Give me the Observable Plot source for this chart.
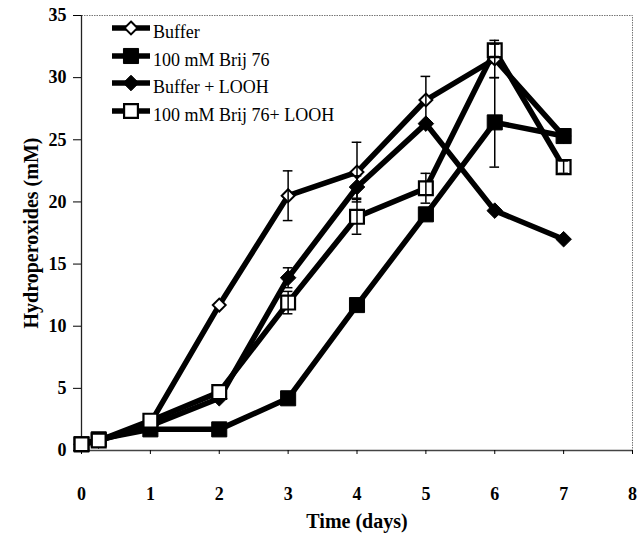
<!DOCTYPE html>
<html><head><meta charset="utf-8">
<script src="https://cdn.jsdelivr.net/npm/d3@7"></script>
<script src="https://cdn.jsdelivr.net/npm/@observablehq/plot@0.6"></script>
<style>
body{margin:0;background:#fff;}
#wrap{position:relative;width:641px;height:533px;font-family:"Liberation Serif","Times New Roman",serif;}
.leg{position:absolute;left:112px;display:flex;align-items:flex-start;font-size:18px;font-weight:normal;line-height:20px;color:#000;white-space:nowrap;}
.leg span{position:relative;top:4px;margin-left:3px;}
</style></head><body><div id="wrap"></div>
<script>
// x values (days)
const days = [0, 0.25, 1, 2, 3, 4, 5, 6, 7];
const seriesNames = ["Buffer", "100 mM Brij 76", "Buffer + LOOH", "100 mM Brij 76+ LOOH"];
// series values (mM)
const buffer      = [0.5, 0.8, 2.2, 11.7, 20.5, 22.4, 28.2, 31.5, 25.3];
const brij        = [0.5, 0.9, 1.7, 1.7, 4.2, 11.7, 19.0, 26.4, 25.3];
const bufferLooh  = [0.5, 0.8, 2.0, 4.2, 13.9, 21.2, 26.3, 19.3, 17.0];
const brijLooh    = [0.5, 0.8, 2.4, 4.7, 11.9, 18.8, 21.1, 32.2, 22.8];
// error bar half-widths (0 = none)
const bufferErr     = [0, 0, 0, 0, 2.0, 2.4, 1.9, 1.5, 0];
const brijErr       = [0, 0, 0, 0, 0, 0, 0, 3.6, 0.4];
const bufferLoohErr = [0, 0, 0, 0, 0.8, 0.9, 0, 0, 0];
const brijLoohErr   = [0, 0, 0, 0, 0.9, 1.4, 1.2, 0.5, 0.5];
// tick labels
const xTicks = [0, 1, 2, 3, 4, 5, 6, 7, 8];
const yTicks = [0, 5, 10, 15, 20, 25, 30, 35];
const xTitle = "Time (days)";
const yTitle = "Hydroperoxides (mM)";

const values = [buffer, brij, bufferLooh, brijLooh];
const errs = [bufferErr, brijErr, bufferLoohErr, brijLoohErr];
const styles = [
  {symbol: "diamond2", fill: "white", r: 5.8, sw: 2},
  {symbol: "square", fill: "black", r: 8.5, sw: 1},
  {symbol: "diamond2", fill: "black", r: 7, sw: 1},
  {symbol: "square", fill: "white", r: 7.8, sw: 2.2}
];

const rows = [];
seriesNames.forEach((s, i) => days.forEach((d, j) => rows.push({series: s, si: i, day: d, value: values[i][j], err: errs[i][j]})));
const errRows = rows.filter(r => r.err > 0).map(r => ({day: r.day, lo: r.value - r.err, hi: r.value + r.err}));

const dotMarks = styles.map((st, i) => Plot.dot(rows.filter(r => r.si === i), {
  x: "day", y: "value", symbol: () => st.symbol, r: st.r, fill: st.fill, stroke: "black", strokeWidth: st.sw
}));

const chart = Plot.plot({
  width: 641, height: 533,
  marginLeft: 81, marginRight: 9, marginTop: 15, marginBottom: 83,
  x: {domain: [0, 8]},
  y: {domain: [0, 35]},
  symbol: {type: "identity"},
  style: {fontFamily: '"Liberation Serif","Times New Roman",serif', fontSize: "18px", fontWeight: "bold", color: "black", background: "white"},
  marks: [
    Plot.frame({stroke: "#777", strokeWidth: 1, strokeDasharray: "1.5,1"}),
    Plot.ruleX([0], {stroke: "#222", strokeWidth: 1.3}),
    Plot.ruleY([0], {stroke: "#444", strokeWidth: 1.3}),
    Plot.axisY({ticks: yTicks, tickSize: 8, tickPadding: 7, fontSize: 18, label: yTitle, labelAnchor: "center", labelArrow: "none", labelOffset: 58}),
    Plot.axisX({ticks: xTicks, tickSize: 4, tickPadding: 33, fontSize: 18, label: xTitle, labelAnchor: "center", labelArrow: "none", labelOffset: 77}),
    Plot.line(rows, {x: "day", y: "value", z: "series", stroke: "black", strokeWidth: 5.5, strokeLinejoin: "round"}),
    ...dotMarks,
    Plot.ruleX(errRows, {x: "day", y1: "lo", y2: "hi", stroke: "black", strokeWidth: 1.5}),
    Plot.ruleY(errRows, {y: "lo", x1: d => d.day - 0.07, x2: d => d.day + 0.07, stroke: "black", strokeWidth: 1.5}),
    Plot.ruleY(errRows, {y: "hi", x1: d => d.day - 0.07, x2: d => d.day + 0.07, stroke: "black", strokeWidth: 1.5})
  ]
});
const wrap = document.getElementById("wrap");
wrap.appendChild(chart);
// enlarge the axis titles
chart.querySelectorAll("g[aria-label='y-axis label'] text, g[aria-label='x-axis label'] text").forEach(t => t.setAttribute("font-size", "20"));

// legend (HTML overlay inside the plot area)
const legTops = [18, 45.6, 73.2, 100.8];
seriesNames.forEach((s, i) => {
  const st = styles[i];
  const div = document.createElement("div");
  div.className = "leg";
  div.style.top = legTops[i] + "px";
  const sym = d3.symbol(st.symbol === "square" ? d3.symbolSquare : d3.symbolDiamond2, Math.PI * st.r * st.r)();
  div.innerHTML = `<svg width="38" height="20"><line x1="0" x2="38" y1="10" y2="10" stroke="black" stroke-width="5.5"/>` +
    `<path transform="translate(19,10)" d="${sym}" fill="${st.fill}" stroke="black" stroke-width="${st.sw}"/></svg><span>${s}</span>`;
  wrap.appendChild(div);
});
</script>
</body></html>
